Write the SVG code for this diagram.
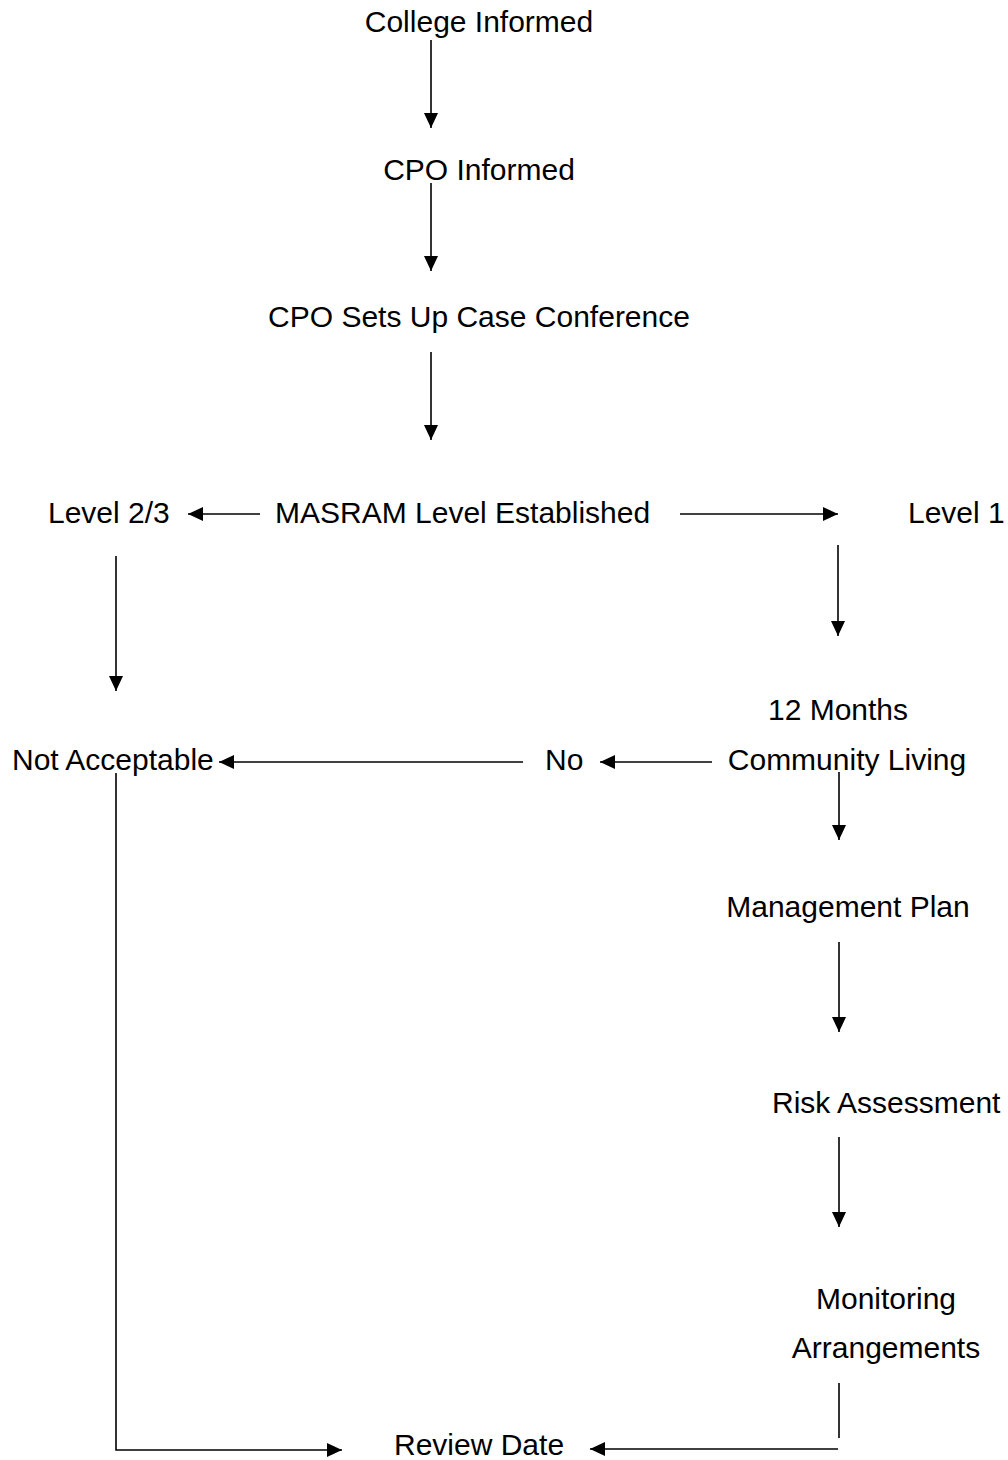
<svg xmlns="http://www.w3.org/2000/svg" width="1008" height="1460" viewBox="0 0 1008 1460">
<defs>
<style>
text{font-family:"Liberation Sans",Arial,sans-serif;font-size:30px;fill:#000}
.c{text-anchor:middle}
.l{fill:none;stroke:#000;stroke-width:1.6}
</style>
<marker id="ah" markerUnits="userSpaceOnUse" markerWidth="15" markerHeight="14" refX="15" refY="7" orient="auto" viewBox="0 0 15 14">
<path d="M0,0 L15,7 L0,14 z" fill="#000"/>
</marker>
</defs>
<rect width="1008" height="1460" fill="#fff"/>
<g id="connectors">
<line class="l" x1="431" y1="40" x2="431" y2="128" marker-end="url(#ah)"/>
<line class="l" x1="431" y1="183" x2="431" y2="271" marker-end="url(#ah)"/>
<line class="l" x1="431" y1="352" x2="431" y2="440" marker-end="url(#ah)"/>
<line class="l" x1="260" y1="514" x2="188" y2="514" marker-end="url(#ah)"/>
<line class="l" x1="680" y1="514" x2="838" y2="514" marker-end="url(#ah)"/>
<line class="l" x1="838" y1="545" x2="838" y2="636" marker-end="url(#ah)"/>
<line class="l" x1="116" y1="556" x2="116" y2="691" marker-end="url(#ah)"/>
<line class="l" x1="712" y1="762" x2="600" y2="762" marker-end="url(#ah)"/>
<line class="l" x1="523" y1="762" x2="219" y2="762" marker-end="url(#ah)"/>
<line class="l" x1="839" y1="772" x2="839" y2="840" marker-end="url(#ah)"/>
<line class="l" x1="839" y1="942" x2="839" y2="1032" marker-end="url(#ah)"/>
<line class="l" x1="839" y1="1137" x2="839" y2="1227" marker-end="url(#ah)"/>
<line class="l" x1="839" y1="1383" x2="839" y2="1438"/>
<line class="l" x1="838" y1="1449" x2="590" y2="1449" marker-end="url(#ah)"/>
<polyline class="l" points="116,773 116,1450 342,1450" marker-end="url(#ah)"/>
</g>
<g id="college-informed"><text class="c" x="479" y="32">College Informed</text></g>
<g id="cpo-informed"><text class="c" x="479" y="180">CPO Informed</text></g>
<g id="cpo-sets-up"><text class="c" x="479" y="327">CPO Sets Up Case Conference</text></g>
<g id="masram"><text x="275" y="523">MASRAM Level Established</text></g>
<g id="level23"><text x="48" y="523">Level 2/3</text></g>
<g id="level1"><text x="908" y="523">Level 1</text></g>
<g id="community-living"><text class="c" x="838" y="720">12 Months</text><text class="c" x="847" y="770">Community Living</text></g>
<g id="no"><text x="545" y="770">No</text></g>
<g id="not-acceptable"><text x="12" y="770">Not Acceptable</text></g>
<g id="management-plan"><text class="c" x="848" y="917">Management Plan</text></g>
<g id="risk-assessment"><text x="772" y="1113">Risk Assessment</text></g>
<g id="monitoring"><text class="c" x="886" y="1309">Monitoring</text><text class="c" x="886" y="1358">Arrangements</text></g>
<g id="review-date"><text x="394" y="1455">Review Date</text></g>
</svg>
